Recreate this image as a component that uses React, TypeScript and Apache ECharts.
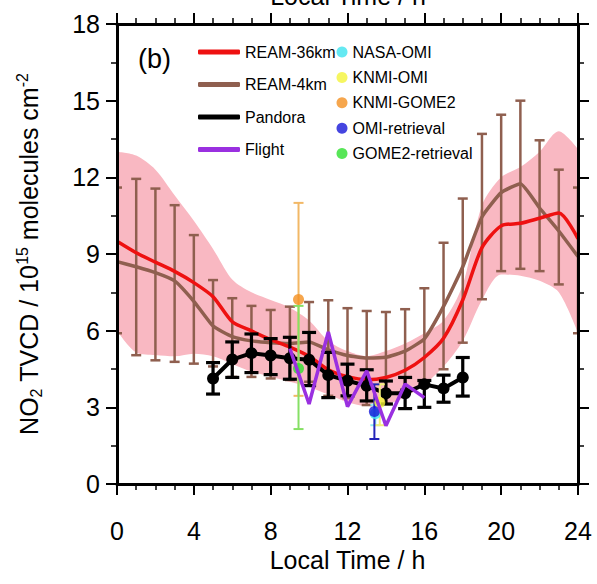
import React, { useEffect, useRef } from 'react';
import * as echarts from 'echarts';

const FONT = '"Liberation Sans", Arial, Helvetica, sans-serif';

const HOURS = [0, 1, 2, 3, 4, 5, 6, 7, 8, 9, 10, 11, 12, 13, 14, 15, 16, 17, 18, 19, 20, 21, 22, 23, 24];
const REAM36 = [9.5, 9.05, 8.68, 8.32, 7.88, 7.33, 6.35, 5.99, 5.65, 5.36, 5.0, 4.47, 4.2, 4.08, 4.17, 4.45, 4.95, 5.7, 7.2, 9.25, 10.1, 10.2, 10.4, 10.6, 9.6];
const BAND_UPPER = [13.0, 12.85, 12.3, 11.3, 10.3, 9.2, 8.0, 7.5, 7.2, 6.9, 6.4, 5.6, 5.2, 5.0, 5.2, 5.5, 5.9, 6.4, 7.8, 10.9, 12.0, 12.4, 13.0, 13.8, 13.1];
const BAND_LOWER = [6.0, 5.15, 5.05, 5.0, 5.1, 5.0, 4.7, 4.4, 4.2, 4.0, 3.8, 3.5, 3.2, 3.05, 3.1, 3.4, 3.9, 4.6, 5.6, 7.2, 8.2, 8.15, 7.95, 7.5, 5.9];
const REAM4 = [8.7, 8.5, 8.27, 7.95, 7.15, 6.18, 5.77, 5.6, 5.53, 5.5, 5.56, 5.25, 5.03, 4.93, 4.96, 5.2, 5.68, 6.95, 8.5, 10.45, 11.4, 11.75, 10.8, 9.9, 8.9];
const REAM4_LOW = [5.9, 5.04, 4.84, 4.78, 4.71, 4.6, 4.19, 4.19, 4.13, 4.07, 4.0, 3.45, 3.36, 3.09, 3.13, 3.7, 3.84, 4.49, 5.53, 7.23, 8.33, 8.42, 8.33, 7.81, 5.9];
const REAM4_HIGH = [11.6, 11.94, 11.56, 10.91, 9.74, 7.98, 7.27, 6.97, 6.81, 6.94, 7.12, 7.19, 6.88, 6.77, 6.73, 6.84, 7.66, 9.44, 11.17, 13.7, 14.45, 15.0, 13.45, 12.3, 11.6];

const PANDORA_HOURS = [5, 6, 7, 8, 9, 10, 11, 12, 13, 14, 15, 16, 17, 18];
const PANDORA = [4.13, 4.87, 5.12, 5.03, 4.92, 4.86, 4.26, 4.04, 3.84, 3.55, 3.55, 3.9, 3.74, 4.17];
const PANDORA_LOW = [3.52, 4.17, 4.36, 4.28, 4.1, 3.85, 3.38, 3.45, 3.25, 3.13, 2.95, 3.0, 3.2, 3.44];
const PANDORA_HIGH = [4.75, 5.56, 5.87, 5.69, 5.74, 5.93, 5.15, 4.69, 4.47, 4.03, 4.17, 4.05, 4.26, 4.95];

const FLIGHT_HOURS = [9, 10, 11, 12, 13, 14, 15, 16];
const FLIGHT = [5.3, 3.13, 5.95, 3.03, 4.43, 2.28, 3.91, 3.38];

const SAT_NAMES = ['NASA-OMI', 'KNMI-OMI', 'KNMI-GOME2', 'OMI-retrieval', 'GOME2-retrieval'];
const SAT_HOURS = [13.45, 13.68, 9.45, 13.4, 9.45];
const SAT_VALUES = [2.75, 3.19, 7.22, 2.84, 4.52];
const SAT_LOW = [2.3, 2.3, 3.45, 1.76, 2.15];
const SAT_HIGH = [3.1, 3.9, 11.0, 3.9, 6.97];
const SAT_COLORS = ['#3ee3ef', '#f4f43a', '#f49020', '#1717d8', '#2ee02e'];
const SAT_BAR_COLORS = ['#8eeef5', '#f2f07a', '#f2b866', '#2424b8', '#86e065'];

const LINE_NAMES = ['REAM-36km', 'REAM-4km', 'Pandora', 'Flight'];
const LINE_COLORS = ['#ee1111', '#8f5f4f', '#000000', '#9a30e0'];

const X_MIN = 0, X_MAX = 24, X_STEP = 4;
const Y_MIN = 0, Y_MAX = 18, Y_STEP = 3;

function errorBar(color: string, lw: number, cap: number) {
  return (params: any, api: any) => {
    const x = api.value(0);
    const lo = api.value(1);
    const hi = api.value(2);
    const a = api.coord([x, lo]);
    const b = api.coord([x, hi]);
    const style = { stroke: color, lineWidth: lw, fill: 'none' };
    return {
      type: 'group',
      children: [
        { type: 'line', shape: { x1: a[0], y1: a[1], x2: b[0], y2: b[1] }, style },
        { type: 'line', shape: { x1: a[0] - cap, y1: a[1], x2: a[0] + cap, y2: a[1] }, style },
        { type: 'line', shape: { x1: b[0] - cap, y1: b[1], x2: b[0] + cap, y2: b[1] }, style },
      ],
    };
  };
}

export default function App() {
  const ref = useRef<HTMLDivElement>(null);
  useEffect(() => {
    if (!ref.current) return;
    const chart = echarts.init(ref.current, undefined, { renderer: 'svg' });

    const axisCommon = {
      type: 'value',
      z: 20,
      axisLine: { show: true, onZero: false, lineStyle: { color: '#000', width: 3 } },
      axisTick: { show: true, inside: false, length: 11, lineStyle: { color: '#000', width: 2 } },
      splitLine: { show: false },
      minorSplitLine: { show: false },
    };

    const satSeries: any[] = [];
    SAT_NAMES.forEach((n, i) => {
      satSeries.push({
        type: 'custom',
        name: n + ' range',
        z: 6,
        clip: true,
        renderItem: errorBar(SAT_BAR_COLORS[i], 2, 5),
        encode: { x: 0, y: [1, 2] },
        data: [[SAT_HOURS[i], SAT_LOW[i], SAT_HIGH[i]]],
        silent: true,
      });
    });
    SAT_NAMES.forEach((n, i) => {
      satSeries.push({
        type: 'scatter',
        name: n,
        z: 7,
        symbol: 'circle',
        symbolSize: 11,
        itemStyle: { color: SAT_COLORS[i] },
        data: [[SAT_HOURS[i], SAT_VALUES[i]]],
        silent: true,
      });
    });

    const option: any = {
      animation: false,
      backgroundColor: '#ffffff',
      textStyle: { fontFamily: FONT },
      grid: { left: 117, right: 19, top: 24, bottom: 100, containLabel: false },
      xAxis: [
        {
          ...axisCommon,
          position: 'bottom',
          min: X_MIN, max: X_MAX, interval: X_STEP,
          minorTick: { show: true, splitNumber: 4, length: 6, lineStyle: { color: '#000', width: 1.5 } },
          axisLabel: { fontSize: 25, color: '#000', margin: 34, fontFamily: FONT },
          name: 'Local Time / h',
          nameLocation: 'middle',
          nameGap: 61,
          nameTextStyle: { fontSize: 25, color: '#000', fontFamily: FONT },
        },
        {
          ...axisCommon,
          position: 'top',
          min: X_MIN, max: X_MAX, interval: X_STEP,
          minorTick: { show: true, splitNumber: 4, length: 6, lineStyle: { color: '#000', width: 1.5 } },
          axisLabel: { show: false },
        },
      ],
      yAxis: [
        {
          ...axisCommon,
          position: 'left',
          min: Y_MIN, max: Y_MAX, interval: Y_STEP,
          minorTick: { show: true, splitNumber: 2, length: 6, lineStyle: { color: '#000', width: 1.5 } },
          axisLabel: { fontSize: 25, color: '#000', margin: 17, fontFamily: FONT },
          name: '{a|NO}{sub|2}{a| TVCD / 10}{sup|15}{a| molecules cm}{sup|-2}',
          nameLocation: 'middle',
          nameRotate: 90,
          nameGap: 73,
          nameTextStyle: {
            color: '#000',
            fontFamily: FONT,
            rich: {
              a: { fontSize: 25, lineHeight: 30, color: '#000', fontFamily: FONT },
              sub: { fontSize: 16, lineHeight: 16, verticalAlign: 'bottom', color: '#000', fontFamily: FONT },
              sup: { fontSize: 16, lineHeight: 16, verticalAlign: 'top', color: '#000', fontFamily: FONT },
            },
          },
        },
        {
          ...axisCommon,
          position: 'right',
          min: Y_MIN, max: Y_MAX, interval: Y_STEP,
          minorTick: { show: true, splitNumber: 2, length: 6, lineStyle: { color: '#000', width: 1.5 } },
          axisLabel: { show: false },
        },
      ],
      legend: [
        {
          orient: 'vertical',
          left: 193,
          top: 39,
          itemWidth: 42,
          itemHeight: 5,
          itemGap: 16.5,
          selectedMode: false,
          z: 30,
          textStyle: { fontSize: 16, lineHeight: 16, color: '#000', fontFamily: FONT },
          data: LINE_NAMES.map((n) => ({ name: n, icon: 'roundRect' })),
        },
        {
          orient: 'vertical',
          left: 331.5,
          top: 39,
          itemWidth: 11,
          itemHeight: 11,
          itemGap: 9.4,
          selectedMode: false,
          z: 30,
          textStyle: { fontSize: 16, lineHeight: 16, color: '#000', fontFamily: FONT },
          data: SAT_NAMES.map((n) => ({ name: n, icon: 'circle' })),
        },
      ],
      graphic: [
        {
          type: 'text',
          x: 348,
          y: -4.4,
          z: 30,
          style: { text: 'Local Time / h', fontSize: 25, fontFamily: FONT, fill: '#000', align: 'center', verticalAlign: 'middle' },
        },
        {
          type: 'text',
          x: 138,
          y: 58.5,
          z: 30,
          style: { text: '(b)', fontSize: 27, fontFamily: FONT, fill: '#000', align: 'left', verticalAlign: 'middle' },
        },
      ],
      series: [
        {
          type: 'line',
          name: 'band-upper',
          z: 1,
          smooth: 0.3,
          symbol: 'none',
          lineStyle: { opacity: 0 },
          areaStyle: { color: '#f9b8c2', opacity: 1 },
          data: HOURS.map((h, i) => [h, BAND_UPPER[i]]),
          silent: true,
        },
        {
          type: 'line',
          name: 'band-lower',
          z: 1,
          smooth: 0.3,
          symbol: 'none',
          lineStyle: { opacity: 0 },
          areaStyle: { color: '#ffffff', opacity: 1 },
          data: HOURS.map((h, i) => [h, BAND_LOWER[i]]),
          silent: true,
        },
        {
          type: 'custom',
          name: 'REAM-4km range',
          z: 2,
          clip: true,
          renderItem: errorBar(LINE_COLORS[1], 2.5, 5),
          encode: { x: 0, y: [1, 2] },
          data: HOURS.map((h, i) => [h, REAM4_LOW[i], REAM4_HIGH[i]]),
          silent: true,
        },
        {
          type: 'line',
          name: 'REAM-4km',
          z: 3,
          symbol: 'none',
          smooth: 0.15,
          itemStyle: { color: LINE_COLORS[1] },
          lineStyle: { color: LINE_COLORS[1], width: 3.5 },
          data: HOURS.map((h, i) => [h, REAM4[i]]),
          silent: true,
        },
        {
          type: 'line',
          name: 'REAM-36km',
          z: 3,
          symbol: 'none',
          smooth: 0.25,
          itemStyle: { color: LINE_COLORS[0] },
          lineStyle: { color: LINE_COLORS[0], width: 3.5 },
          data: HOURS.map((h, i) => [h, REAM36[i]]),
          silent: true,
        },
        {
          type: 'custom',
          name: 'Pandora range',
          z: 4,
          clip: true,
          renderItem: errorBar('#000', 3.2, 7),
          encode: { x: 0, y: [1, 2] },
          data: PANDORA_HOURS.map((h, i) => [h, PANDORA_LOW[i], PANDORA_HIGH[i]]),
          silent: true,
        },
        {
          type: 'line',
          name: 'Pandora',
          z: 5,
          symbol: 'circle',
          symbolSize: 12,
          showSymbol: true,
          itemStyle: { color: LINE_COLORS[2] },
          lineStyle: { color: LINE_COLORS[2], width: 4 },
          data: PANDORA_HOURS.map((h, i) => [h, PANDORA[i]]),
          silent: true,
        },
        ...satSeries,
        {
          type: 'line',
          name: 'Flight',
          z: 8,
          symbol: 'none',
          itemStyle: { color: LINE_COLORS[3] },
          lineStyle: { color: LINE_COLORS[3], width: 3.5 },
          data: FLIGHT_HOURS.map((h, i) => [h, FLIGHT[i]]),
          silent: true,
        },
      ],
    };

    chart.setOption(option);
    return () => chart.dispose();
  }, []);

  return (
    <div
      ref={ref}
      style={{ position: 'fixed', left: 0, top: 0, width: 597, height: 584, background: '#fff' }}
    />
  );
}
